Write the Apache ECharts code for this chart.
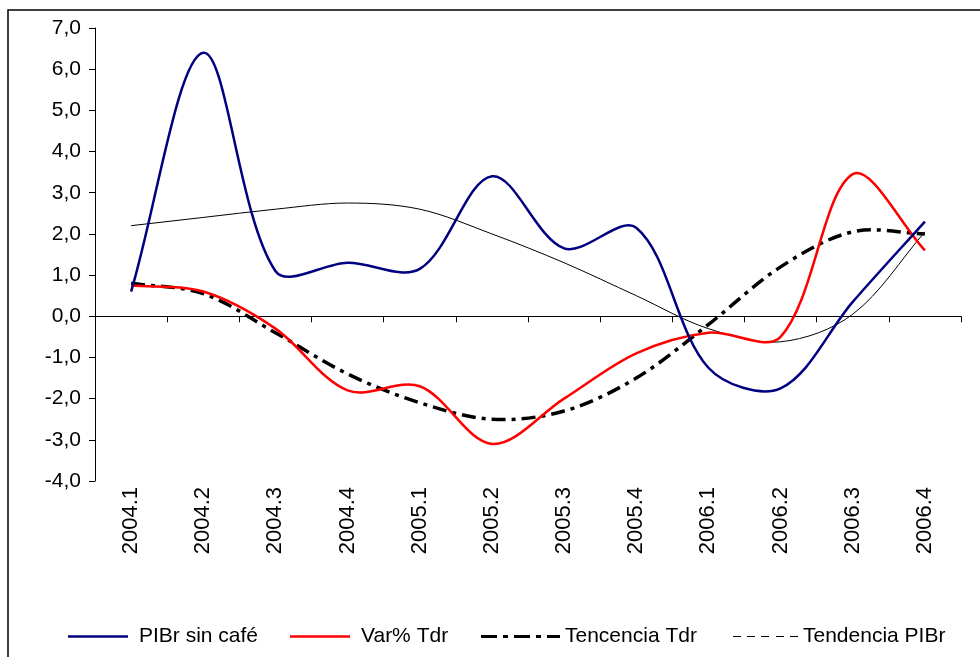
<!DOCTYPE html>
<html>
<head>
<meta charset="utf-8">
<script src="https://cdn.jsdelivr.net/npm/echarts@6/dist/echarts.min.js"></script>
<style>
  html, body { margin: 0; padding: 0; background: #fff; }
  #chart { width: 980px; height: 657px; }
</style>
</head>
<body>
<div id="chart"></div>
<script>
// trimestres
const categories = ["2004.1", "2004.2", "2004.3", "2004.4", "2005.1", "2005.2",
  "2005.3", "2005.4", "2006.1", "2006.2", "2006.3", "2006.4"];

const pibrSinCafe = [0.6, 6.4, 1.1, 1.3, 1.15, 3.4, 1.65, 2.15, -1.25, -1.75, 0.35, 2.3];
const varTdr = [0.75, 0.6, -0.3, -1.8, -1.7, -3.1, -2.0, -0.9, -0.4, -0.5, 3.45, 1.6];
const tendenciaTdr = [0.8, 0.55, -0.4, -1.4, -2.1, -2.5, -2.3, -1.5, -0.2, 1.2, 2.05, 2.0];
const tendenciaPIBr = [2.2, 2.4, 2.6, 2.75, 2.6, 2.0, 1.3, 0.5, -0.3, -0.62, 0.05, 2.05];

const names = ["PIBr sin café", "Var% Tdr", "Tencencia Tdr", "Tendencia PIBr"];

const FONT = "Liberation Sans, Arial, sans-serif";

const chart = echarts.init(document.getElementById("chart"));

function dist(a, b) {
  return Math.hypot(b[0] - a[0], b[1] - a[1]) || 1;
}

// curva suavizada tipo Excel pasando por los puntos (en pixeles)
function smoothPath(api, values) {
  const pts = values.map((v, i) => api.coord([i, v]));
  const n = pts.length;
  // control points a cada lado de cada punto
  const cin = [], cout = [];
  for (let i = 0; i < n; i++) {
    const p = pts[i];
    const prev = pts[i - 1] || p;
    const next = pts[i + 1] || p;
    const dPrev = i > 0 ? dist(prev, p) : 0;
    const dNext = i < n - 1 ? dist(p, next) : 0;
    const sum = dPrev + dNext || 1;
    const vx = next[0] - prev[0];
    const vy = next[1] - prev[1];
    const k = 1 / 3;
    cin.push([p[0] - vx * k * dPrev / sum, p[1] - vy * k * dPrev / sum]);
    cout.push([p[0] + vx * k * dNext / sum, p[1] + vy * k * dNext / sum]);
  }
  let d = "M" + pts[0][0] + "," + pts[0][1];
  for (let i = 0; i < n - 1; i++) {
    d += " C" + cout[i][0] + "," + cout[i][1] + " " +
      cin[i + 1][0] + "," + cin[i + 1][1] + " " +
      pts[i + 1][0] + "," + pts[i + 1][1];
  }
  return d;
}

function curveSeries(name, values, color, width, dash, z) {
  return {
    name: name,
    type: "custom",
    z: z,
    data: values.map((v, i) => [i, v]),
    encode: { x: 0, y: 1 },
    itemStyle: { color: color },
    renderItem: (params, api) => {
      if (params.dataIndex !== 0) return;
      return {
        type: "path",
        shape: { pathData: smoothPath(api, values) },
        style: {
          fill: "none",
          stroke: color,
          lineWidth: width,
          lineDash: dash,
          lineJoin: "round",
        },
      };
    },
  };
}

function legendAt(left, width, height, icon, name) {
  return {
    left: left,
    top: 621,
    itemWidth: width,
    itemHeight: height,
    itemGap: 0,
    textStyle: { fontFamily: FONT, fontSize: 21, color: "#000" },
    data: [{ name: name, icon: icon }],
  };
}

chart.setOption({
  backgroundColor: "#fff",
  animation: false,
  graphic: [
    {
      type: "rect",
      z: -10,
      shape: { x: 8, y: 10, width: 1000, height: 700 },
      style: { fill: "none", stroke: "#000", lineWidth: 1.5 },
    },
  ],
  grid: { left: 95, right: 19, top: 28, bottom: 176 },
  legend: [
    legendAt(63, 72, 2.5, "path://M0,0h72v3h-72z", names[0]),
    legendAt(285, 72, 2.5, "path://M0,0h72v3h-72z", names[1]),
    legendAt(476, 79, 3.5,
      "path://M0,0h16v3h-16z M22,0h5v3h-5z M33,0h16v3h-16z M55,0h5v3h-5z M66,0h13v3h-13z",
      names[2]),
    legendAt(728, 65, 1.2,
      "path://M0,0h8v1h-8z M14,0h8v1h-8z M28,0h8v1h-8z M43,0h8v1h-8z M57,0h8v1h-8z",
      names[3]),
  ],
  xAxis: [
    {
      type: "category",
      data: categories,
      axisLine: { onZero: true, lineStyle: { color: "#000", width: 1 } },
      axisTick: { show: true, length: 6, inside: false, lineStyle: { color: "#000" } },
      axisLabel: { show: false },
      splitLine: { show: false },
    },
    {
      type: "category",
      data: categories,
      position: "bottom",
      axisLine: { show: false, onZero: false },
      axisTick: { show: false },
      axisLabel: {
        rotate: 90,
        margin: 6,
        fontFamily: FONT,
        fontSize: 22,
        color: "#000",
      },
    },
  ],
  yAxis: {
    type: "value",
    min: -4,
    max: 7,
    interval: 1,
    axisLine: { show: true, lineStyle: { color: "#000", width: 1 } },
    axisTick: { show: true, length: 6, lineStyle: { color: "#000" } },
    splitLine: { show: false },
    axisLabel: {
      margin: 14,
      fontFamily: FONT,
      fontSize: 21,
      color: "#000",
      formatter: (v) => v.toFixed(1).replace(".", ","),
    },
  },
  series: [
    curveSeries(names[3], tendenciaPIBr, "#000", 1, null, 1),
    curveSeries(names[2], tendenciaTdr, "#000", 3.5, [14, 6, 4, 6], 2),
    curveSeries(names[1], varTdr, "#ff0000", 2.5, null, 3),
    curveSeries(names[0], pibrSinCafe, "#000080", 2.5, null, 4),
  ],
});

window.addEventListener("resize", chart.resize);
</script>
</body>
</html>
